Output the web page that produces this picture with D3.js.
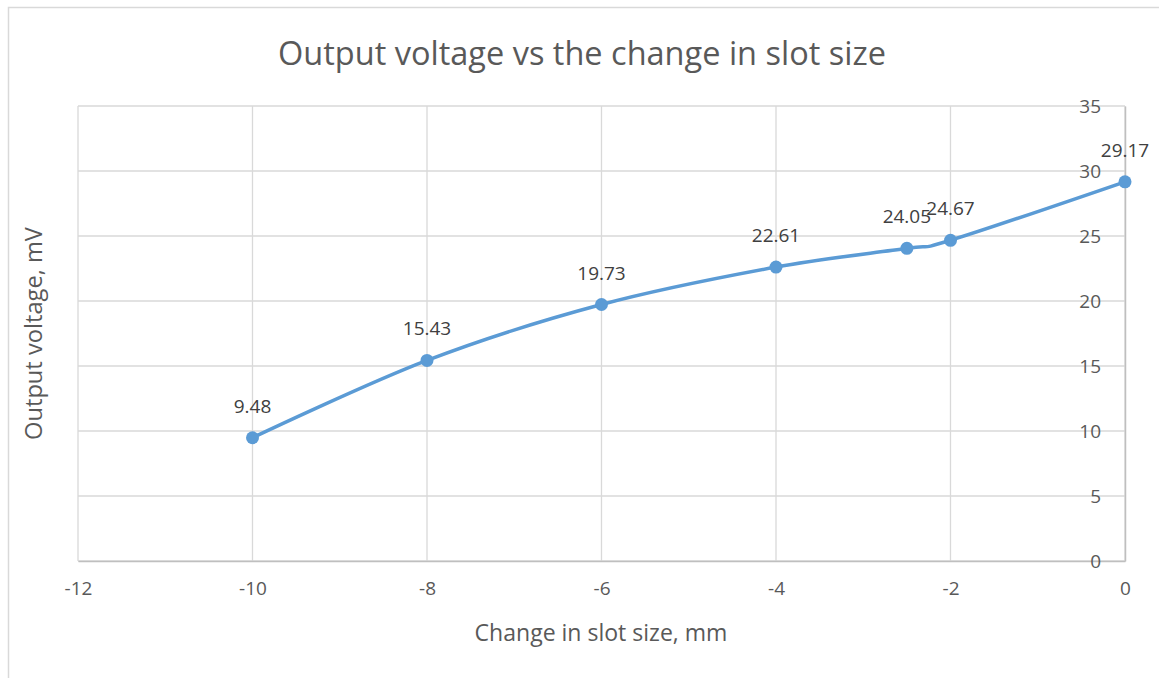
<!DOCTYPE html>
<html>
<head>
<meta charset="utf-8">
<script src="https://cdn.jsdelivr.net/npm/d3@7"></script>
<style>
  html, body { margin: 0; padding: 0; background: #fff; }
  svg { display: block; }
  text { font-family: "Open Sans", "Noto Sans", sans-serif; }
</style>
</head>
<body>
<svg id="chart" width="1159" height="678"></svg>
<script>
// Slot size change (mm) and measured output voltage (mV)
const slotChange = [-10, -8, -6, -4, -2.5, -2, 0];
const outputVoltage = [9.48, 15.43, 19.73, 22.61, 24.05, 24.67, 29.17];
const xTicks = [-12, -10, -8, -6, -4, -2, 0];
const yTicks = [0, 5, 10, 15, 20, 25, 30, 35];

const title = "Output voltage vs the change in slot size";
const xTitle = "Change in slot size, mm";
const yTitle = "Output voltage, mV";

const W = 1159, H = 678;
const plot = { left: 78, right: 1125, top: 106, bottom: 561 };

const svg = d3.select("#chart");

// chart frame (only top and left edges fall inside the canvas)
svg.append("path")
  .attr("d", `M8.5,${H} V7.5 H${W}`)
  .attr("fill", "none")
  .attr("stroke", "#d9d9d9")
  .attr("stroke-width", 1.5);

const x = d3.scaleLinear().domain([-12, 0]).range([plot.left, plot.right]);
const y = d3.scaleLinear().domain([0, 35]).range([plot.bottom, plot.top]);

// gridlines
const grid = svg.append("g").attr("stroke", "#d9d9d9").attr("stroke-width", 1.3);
grid.selectAll("line.v").data(xTicks).join("line")
  .attr("x1", d => x(d)).attr("x2", d => x(d))
  .attr("y1", plot.top).attr("y2", plot.bottom);
grid.selectAll("line.h").data(yTicks).join("line")
  .attr("x1", plot.left).attr("x2", plot.right)
  .attr("y1", d => y(d)).attr("y2", d => y(d));

// axes: x along y=0, y at x=0 (right edge) with labels to its left
const xAxis = d3.axisBottom(x).tickValues(xTicks).tickSize(0).tickPadding(21)
  .tickFormat(d => d3.format("d")(d).replace("−", "-"));
const gx = svg.append("g").attr("transform", `translate(0,${plot.bottom})`).call(xAxis);
gx.select(".domain").attr("stroke", "#bfbfbf").attr("stroke-width", 1.5);
gx.selectAll("text").attr("fill", "#595959").attr("font-size", 19);

const yAxis = d3.axisLeft(y).tickValues(yTicks).tickSize(0).tickPadding(24);
const gy = svg.append("g").attr("transform", `translate(${plot.right},0)`).call(yAxis);
gy.select(".domain").attr("stroke", "#bfbfbf").attr("stroke-width", 1.5);
gy.selectAll("text").attr("fill", "#595959").attr("font-size", 19);

// smoothed series line
const pts = slotChange.map((v, i) => [v, outputVoltage[i]]);
const line = d3.line().x(d => x(d[0])).y(d => y(d[1])).curve(d3.curveCatmullRom.alpha(0));
svg.append("path")
  .datum(pts)
  .attr("d", line)
  .attr("fill", "none")
  .attr("stroke", "#5b9bd5")
  .attr("stroke-width", 3.5)
  .attr("stroke-linecap", "round");

svg.append("g").selectAll("circle").data(pts).join("circle")
  .attr("cx", d => x(d[0])).attr("cy", d => y(d[1]))
  .attr("r", 6.5)
  .attr("fill", "#5b9bd5");

// value labels above points
svg.append("g").selectAll("text").data(pts).join("text")
  .attr("x", d => x(d[0])).attr("y", d => y(d[1]) - 32)
  .attr("text-anchor", "middle")
  .attr("dominant-baseline", "central")
  .attr("fill", "#404040")
  .attr("font-size", 19)
  .text(d => d3.format(".2f")(d[1]));

// fit a text element to a target width
function fit(sel, width) {
  const w = sel.node().getComputedTextLength();
  const fs = parseFloat(sel.attr("font-size"));
  sel.attr("font-size", fs * width / w);
}

const t = svg.append("text")
  .attr("x", 582).attr("y", 52)
  .attr("text-anchor", "middle").attr("dominant-baseline", "central")
  .attr("fill", "#595959").attr("font-size", 28)
  .text(title);
fit(t, 608);

const xt = svg.append("text")
  .attr("x", 601).attr("y", 632)
  .attr("text-anchor", "middle").attr("dominant-baseline", "central")
  .attr("fill", "#595959").attr("font-size", 19)
  .text(xTitle);
fit(xt, 253);

const yt = svg.append("text")
  .attr("transform", `translate(33,${(plot.top + plot.bottom) / 2}) rotate(-90)`)
  .attr("text-anchor", "middle").attr("dominant-baseline", "central")
  .attr("fill", "#595959").attr("font-size", 19)
  .text(yTitle);
fit(yt, 213);
</script>
</body>
</html>
